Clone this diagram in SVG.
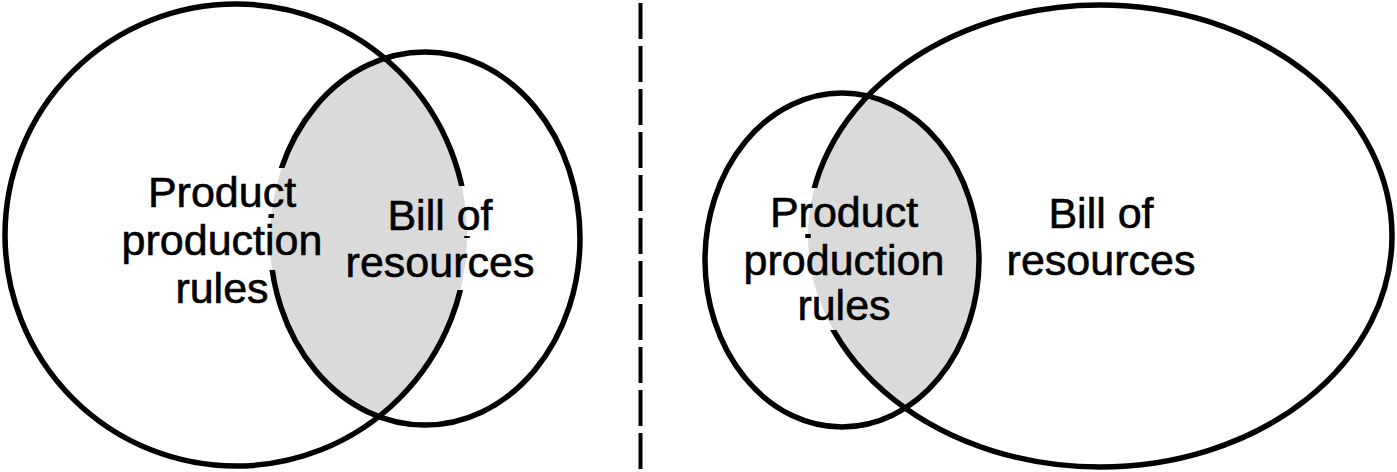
<svg xmlns="http://www.w3.org/2000/svg" width="1397" height="472" viewBox="0 0 1397 472">
<style>
.ring{fill:none;stroke:#000;stroke-width:5.5}
.lbl{font-family:"Liberation Sans",Arial,sans-serif;font-size:43px;fill:#000;stroke:#000;stroke-width:0.6;text-anchor:middle}
.lens{fill:#dadada}
</style>
<defs>
<clipPath id="clipL"><ellipse cx="425" cy="238.5" rx="155" ry="186.5"/></clipPath>
<clipPath id="clipR"><ellipse cx="842" cy="260" rx="137" ry="167"/></clipPath>
<mask id="maskL" maskUnits="userSpaceOnUse" x="0" y="0" width="640" height="472">
<rect x="0" y="0" width="640" height="472" fill="#fff"/>
<rect x="141" y="168" width="164" height="46" fill="#000"/>
<rect x="114" y="218" width="216" height="52" fill="#000"/>
<rect x="370" y="186" width="128" height="50" fill="#000"/>
<rect x="348" y="238" width="186" height="52" fill="#000"/>
</mask>
<mask id="maskR" maskUnits="userSpaceOnUse" x="640" y="0" width="757" height="472">
<rect x="640" y="0" width="757" height="472" fill="#fff"/>
<rect x="762" y="188" width="164" height="46" fill="#000"/>
<rect x="736" y="238" width="216" height="50" fill="#000"/>
<rect x="791" y="284" width="106" height="46" fill="#000"/>
</mask>
</defs>
<g id="left-venn">
<g id="left-overlap"><ellipse class="lens" cx="236" cy="235" rx="231" ry="231" clip-path="url(#clipL)"/></g>
<g id="left-product-rules" mask="url(#maskL)"><ellipse class="ring" cx="236" cy="235" rx="231" ry="231"/></g>
<g id="left-bill" mask="url(#maskL)"><ellipse class="ring" cx="425" cy="238.5" rx="155" ry="186.5"/></g>
<g id="left-labels">
<text class="lbl" x="222" y="207">Product</text>
<text class="lbl" x="222" y="255">production</text>
<text class="lbl" x="222" y="303">rules</text>
<text class="lbl" x="440" y="230">Bill of</text>
<text class="lbl" x="440" y="277">resources</text>
</g>
</g>
<g id="divider"><line x1="640.5" y1="3" x2="640.5" y2="472" stroke="#000" stroke-width="4" stroke-dasharray="36 7"/></g>
<g id="right-venn">
<g id="right-overlap"><ellipse class="lens" cx="1100" cy="236" rx="292" ry="231" clip-path="url(#clipR)"/></g>
<g id="right-product-rules" mask="url(#maskR)"><ellipse class="ring" cx="842" cy="260" rx="137" ry="167"/></g>
<g id="right-bill" mask="url(#maskR)"><ellipse class="ring" cx="1100" cy="236" rx="292" ry="231"/></g>
<g id="right-labels">
<text class="lbl" x="844" y="227">Product</text>
<text class="lbl" x="844" y="275">production</text>
<text class="lbl" x="844" y="320">rules</text>
<text class="lbl" x="1101" y="228">Bill of</text>
<text class="lbl" x="1101" y="275">resources</text>
</g>
</g>
</svg>
